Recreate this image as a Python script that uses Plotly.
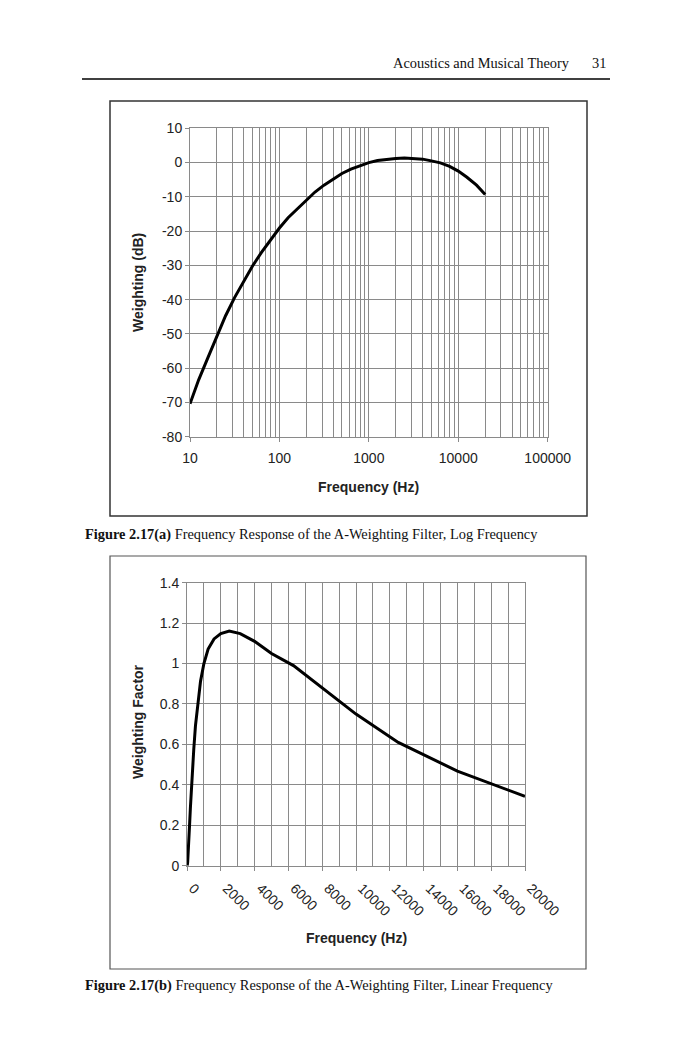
####################################################################################################################
# plot.py
#
# page 31 of a book: A-weighting filter response, log frequency (a) and linear frequency (b)
# two excel-style line charts stacked on one page, drawn with plotly



####################################################################################################################
# IMPORTS
import plotly.graph_objects as go



####################################################################################################################
# DATA

# third-octave frequencies (Hz)
freq_hz = [10, 12.5, 16, 20, 25, 31.5, 40, 50, 63, 80, 100, 125, 160, 200, 250, 315, 400, 500, 630, 800,
           1000, 1250, 1600, 2000, 2500, 3150, 4000, 5000, 6300, 8000, 10000, 12500, 16000, 20000]

# figure 2.17(a) - weighting in dB
weight_db = [-70.4, -63.4, -56.7, -50.5, -44.7, -39.4, -34.6, -30.2, -26.2, -22.5, -19.1, -16.1, -13.4, -10.9,
             -8.6, -6.6, -4.8, -3.2, -1.9, -0.8, 0.0, 0.6, 1.0, 1.2, 1.3, 1.2, 1.0, 0.5, -0.1, -1.1, -2.5,
             -4.3, -6.6, -9.3]

# figure 2.17(b) - weighting as a linear factor
weight_factor = [0.0003, 0.0007, 0.0015, 0.003, 0.006, 0.011, 0.019, 0.031, 0.049, 0.075, 0.111, 0.157, 0.214,
                 0.285, 0.372, 0.468, 0.575, 0.692, 0.804, 0.912, 1.0, 1.072, 1.122, 1.148, 1.161, 1.148, 1.11,
                 1.05, 0.99, 0.881, 0.75, 0.61, 0.468, 0.343]

# tick labels
log_x_ticks = [10, 100, 1000, 10000, 100000]
log_x_labels = ['10', '100', '1000', '10000', '100000']
db_y_ticks = [-80, -70, -60, -50, -40, -30, -20, -10, 0, 10]
db_y_labels = ['-80', '-70', '-60', '-50', '-40', '-30', '-20', '-10', '0', '10']
lin_x_ticks = [0, 2000, 4000, 6000, 8000, 10000, 12000, 14000, 16000, 18000, 20000]
lin_x_labels = ['0', '2000', '4000', '6000', '8000', '10000', '12000', '14000', '16000', '18000', '20000']

# page text
header_text = 'Acoustics and Musical Theory'
page_number = '31'
caption_a = '<b>Figure 2.17(a)</b> Frequency Response of the A-Weighting Filter, Log Frequency'
caption_b = '<b>Figure 2.17(b)</b> Frequency Response of the A-Weighting Filter, Linear Frequency'



####################################################################################################################
# SCRIPT

W, H = 692, 1050
OFF = 8                                  # the page body margin shifts the plot by 8px, take it back out
def px(x): return (x - OFF) / W          # page pixel -> paper x
def py(y): return 1 - (y - OFF) / H      # page pixel -> paper y

SANS = 'Liberation Sans, Arial, sans-serif'
SERIF = 'Liberation Serif, Times New Roman, serif'
GRID = '#8a8a8a'

fig = go.Figure()

# curves
fig.add_trace(go.Scatter(x=freq_hz, y=weight_db, mode='lines', line=dict(color='black', width=3),
                         xaxis='x', yaxis='y'))
fig.add_trace(go.Scatter(x=freq_hz, y=weight_factor, mode='lines', line=dict(color='black', width=3),
                         xaxis='x2', yaxis='y2'))

# minor grid positions for the log axis (2..9 in each decade)
log_minor = [m * d for d in log_x_ticks[:-1] for m in range(2, 10)]

axis_common = dict(showline=True, linecolor=GRID, linewidth=1, mirror=True, showgrid=True, gridcolor=GRID,
                   gridwidth=1, zeroline=False, ticks='outside', ticklen=4, tickcolor=GRID, automargin=False,
                   tickfont=dict(family=SANS, size=14, color='#222'))

fig.update_layout(
    template='none',
    width=W, height=H, margin=dict(l=0, r=0, t=0, b=0, pad=0, autoexpand=False),
    paper_bgcolor='white', plot_bgcolor='white', showlegend=False,
    xaxis=dict(axis_common, type='log', range=[1, 5], domain=[px(190), px(547.7)], anchor='y',
               tickmode='array', tickvals=log_x_ticks, ticktext=log_x_labels, ticklabelstandoff=4,
               minor=dict(tickmode='array', tickvals=log_minor, showgrid=True, gridcolor=GRID, ticks='')),
    yaxis=dict(axis_common, range=[-80, 10], domain=[py(436.7), py(128.3)], anchor='x',
               tickmode='array', tickvals=db_y_ticks, ticktext=db_y_labels),
    xaxis2=dict(axis_common, range=[0, 20000], domain=[px(187), px(525)], anchor='y2',
                tickmode='array', tickvals=lin_x_ticks, ticktext=lin_x_labels, tickangle=45,
                ticklabelshift=6, ticklabelstandoff=4,
                minor=dict(dtick=1000, tick0=0, showgrid=True, gridcolor=GRID, ticks='')),
    yaxis2=dict(axis_common, range=[0, 1.4], domain=[py(865.7), py(582.7)], anchor='x2', dtick=0.2, tick0=0),
)

# page header + rule
fig.add_annotation(x=px(572), y=py(63), xref='paper', yref='paper', text=header_text, showarrow=False,
                   xanchor='right', yanchor='middle', font=dict(family=SERIF, size=14.4, color='#111'))
fig.add_annotation(x=px(608), y=py(63), xref='paper', yref='paper', text=page_number, showarrow=False,
                   xanchor='right', yanchor='middle', font=dict(family=SERIF, size=14.4, color='#111'))
fig.add_shape(type='line', xref='paper', yref='paper', x0=px(82), x1=px(610), y0=py(79), y1=py(79),
              line=dict(color='black', width=1.5))

# chart frames
fig.add_shape(type='rect', xref='paper', yref='paper', x0=px(110), x1=px(587), y0=py(516), y1=py(101),
              line=dict(color='#333', width=1.5))
fig.add_shape(type='rect', xref='paper', yref='paper', x0=px(110), x1=px(586), y0=py(969), y1=py(556),
              line=dict(color='#555', width=1.2))

# axis titles
title_font = dict(family=SANS, size=14, color='#222')
for x, y, txt, ang in [(138, 283, '<b>Weighting (dB)</b>', -90), (368, 487, '<b>Frequency (Hz)</b>', 0),
                       (138, 722, '<b>Weighting Factor</b>', -90), (356, 938, '<b>Frequency (Hz)</b>', 0)]:
    fig.add_annotation(x=px(x), y=py(y), xref='paper', yref='paper', text=txt, showarrow=False,
                       textangle=ang, xanchor='center', yanchor='middle', font=title_font)

# captions
fig.add_annotation(x=px(83), y=py(534), xref='paper', yref='paper', text=caption_a, showarrow=False,
                   xanchor='left', yanchor='middle', font=dict(family=SERIF, size=14.4, color='#111'))
fig.add_annotation(x=px(83), y=py(985), xref='paper', yref='paper', text=caption_b, showarrow=False,
                   xanchor='left', yanchor='middle', font=dict(family=SERIF, size=14.4, color='#111'))

fig.write_html('out.html')
